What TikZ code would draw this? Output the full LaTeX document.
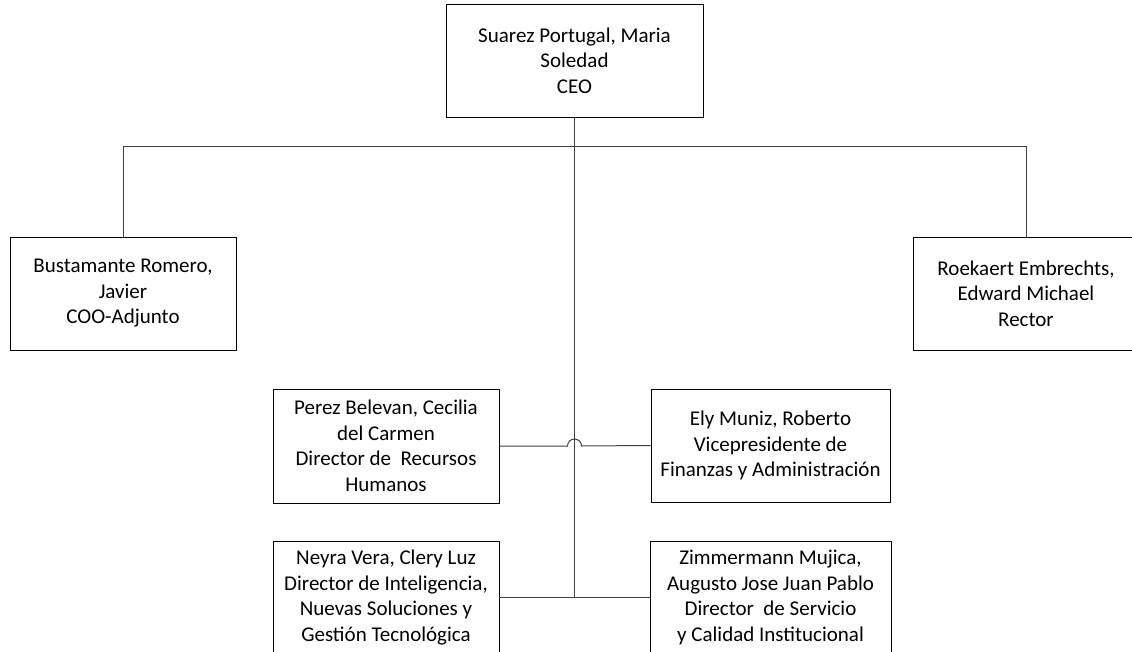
\documentclass[tikz,border=0pt]{standalone}
\usepackage{fontspec}
\setmainfont{Carlito}
\usepackage{tikz}

\begin{document}
\begin{tikzpicture}[x=1pt,y=1pt,
        cargo/.style={draw=black,line width=0.9pt,fill=white,align=center,inner sep=0pt,
            font=\fontsize{21}{25.5}\selectfont},
        enlace/.style={draw=black!75,line width=1pt}]
        \useasboundingbox (0,0) rectangle (1132,-652);
        \clip (0,0) rectangle (1132,-652);
        % cajas
        \node[cargo,minimum width=257,minimum height=113] (ceo) at (574.5,-60.5) {Suarez Portugal, Maria\\Soledad\\CEO};
        \node[cargo,minimum width=226,minimum height=113] (coo) at (123,-293.5) {Bustamante Romero,\\Javier\\COO-Adjunto};
        \node[cargo,minimum width=226,minimum height=113] (rector) at (1026,-293.5) {Roekaert Embrechts,\\Edward Michael\\Rector};
        \node[cargo,minimum width=226,minimum height=114] (rrhh) at (386,-446) {Perez Belevan, Cecilia\\del Carmen\\Director de~ Recursos\\Humanos};
        \node[cargo,minimum width=239,minimum height=113] (finanzas) at (770.5,-445.5) {Ely Muniz, Roberto\\Vicepresidente de\\Finanzas y Administración};
        \node[cargo,minimum width=226,minimum height=113] (intel) at (386,-597.5) {Neyra Vera, Clery Luz\\Director de Inteligencia,\\Nuevas Soluciones y\\Gestión Tecnológica};
        \node[cargo,minimum width=241,minimum height=113] (calidad) at (770.5,-597.5) {Zimmermann Mujica,\\Augusto Jose Juan Pablo\\Director~ de Servicio\\y Calidad Institucional};
        % enlaces
        \coordinate (fin) at (ceo.south |- intel.east);
        \draw[enlace] (ceo.south) -- (fin);
        \draw[enlace] (coo.north) -- ++(0,90) -| (rector.north);
        \draw[enlace] (rrhh.east) -- ([xshift=-7]ceo.south |- rrhh.east) arc (180:0:7) -- (finanzas.west);
        \draw[enlace] (intel.east) -- (calidad.west);
    \end{tikzpicture}
\end{document}
